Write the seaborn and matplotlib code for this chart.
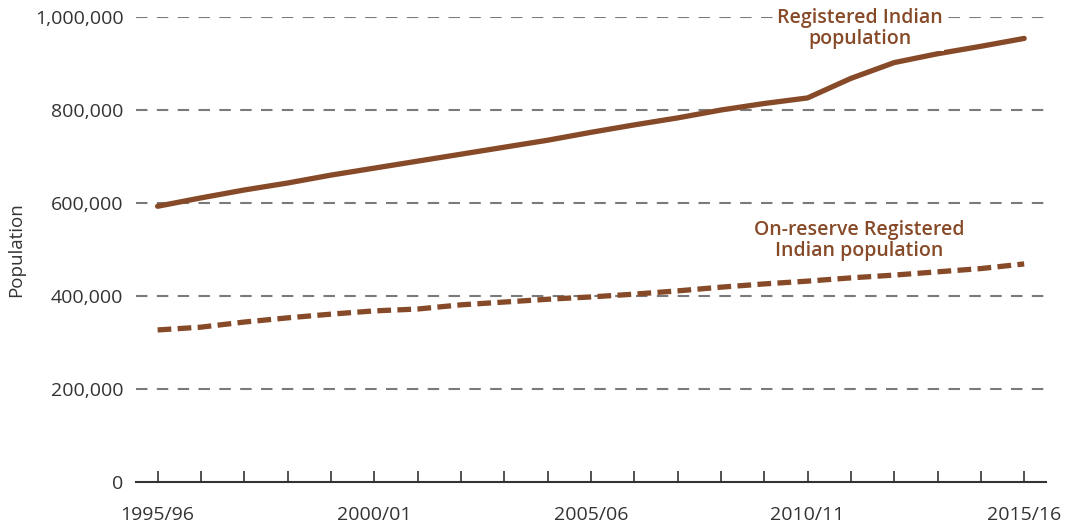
import matplotlib
matplotlib.use("Agg")
import matplotlib.pyplot as plt
import matplotlib.ticker as mticker
import seaborn as sns
import pandas as pd

years = ["1995/96", "1996/97", "1997/98", "1998/99", "1999/00", "2000/01", "2001/02",
         "2002/03", "2003/04", "2004/05", "2005/06", "2006/07", "2007/08", "2008/09",
         "2009/10", "2010/11", "2011/12", "2012/13", "2013/14", "2014/15", "2015/16"]
registered = [593000, 611000, 628000, 643000, 660000, 675000, 690000, 705000, 720000,
              735000, 752000, 768000, 783000, 800000, 814000, 826000, 868000, 902000,
              921000, 937000, 954000]
on_reserve = [327000, 333000, 344000, 353000, 361000, 368000, 372000, 381000, 387000,
              393000, 398000, 404000, 411000, 419000, 426000, 432000, 439000, 445000,
              452000, 459000, 469000]
shown_labels = ["1995/96", "2000/01", "2005/06", "2010/11", "2015/16"]
y_ticks = [0, 200000, 400000, 600000, 800000, 1000000]

sns.set_theme(style="white")
plt.rcParams["font.family"] = ["Open Sans", "DejaVu Sans"]

BROWN = "#874a28"
TEXT = "#333333"

df = pd.DataFrame({"idx": list(range(len(years))), "year": years,
                   "registered": registered, "on_reserve": on_reserve})

fig = plt.figure(figsize=(10.73, 5.27), dpi=100)
ax = fig.add_axes([0.1267, 0.0854, 0.848, 0.8823])

for yv in y_ticks[1:]:
    ax.axhline(yv, color="#7a7a7a", lw=1.5, dashes=(5.5, 4.5), zorder=0)

sns.lineplot(data=df, x="idx", y="registered", ax=ax, color=BROWN, lw=3.8,
             solid_capstyle="round")
sns.lineplot(data=df, x="idx", y="on_reserve", ax=ax, color=BROWN, lw=3.8,
             dashes=False, linestyle=(0, (2.6, 1.2)))

ax.set_xlim(-0.5, 20.5)
ax.set_ylim(0, 1000000)
ax.set_yticks(y_ticks)
ax.yaxis.set_major_formatter(mticker.FuncFormatter(lambda v, p: f"{int(v):,}"))
ax.set_xticks(df["idx"])
ax.set_xticklabels([y if y in shown_labels else "" for y in years])

for s in ["top", "right", "left"]:
    ax.spines[s].set_visible(False)
ax.spines["bottom"].set_color("#333333")
ax.spines["bottom"].set_linewidth(1.5)

ax.tick_params(axis="x", direction="in", length=8, width=1.2, color="#333333",
               labelsize=14, labelcolor=TEXT, pad=17, bottom=True)
ax.tick_params(axis="y", length=0, labelsize=14, labelcolor=TEXT, pad=9)
ax.set_xlabel("")
ax.set_ylabel("Population", fontsize=13.5, color=TEXT)
ax.yaxis.set_label_coords(-0.122, 0.5)

box = dict(facecolor="white", edgecolor="none", pad=1)
ax.text(16.2, 975000, "Registered Indian\npopulation", ha="center", va="center",
        color=BROWN, fontsize=14, fontweight="semibold", linespacing=1.1, bbox=box)
ax.text(16.2, 519000, "On-reserve Registered\nIndian population", ha="center",
        va="center", color=BROWN, fontsize=14, fontweight="semibold", linespacing=1.1)

fig.savefig("out.png", dpi=100)
